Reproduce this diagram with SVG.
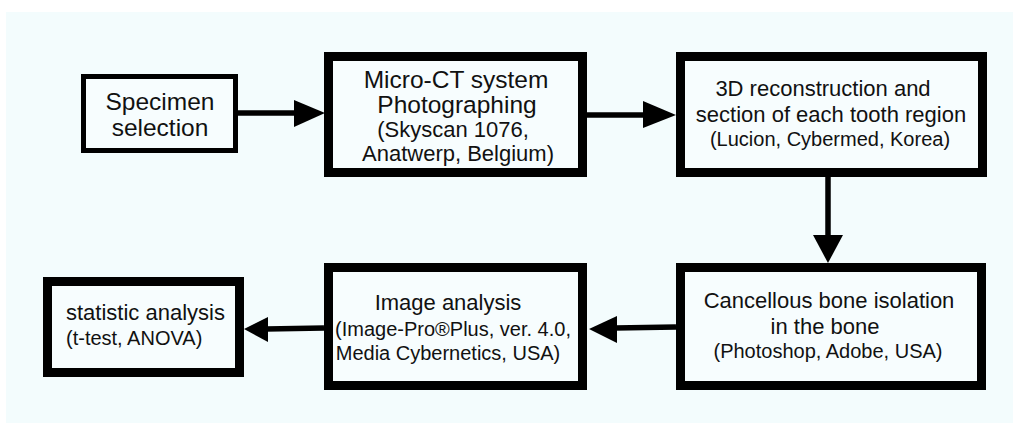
<svg xmlns="http://www.w3.org/2000/svg" width="1013" height="423" viewBox="0 0 1013 423">
<style>
.box{fill:#F7FDFE;stroke:#000;stroke-width:9}
.t{font-family:"Liberation Sans",Arial,sans-serif;fill:#111;text-anchor:middle}
.big{font-size:24.5px}
.mid{font-size:22px}
.sm{font-size:20px}
.ln{stroke:#000;stroke-width:5.5;fill:none}
.hd{fill:#000}
</style>
<rect x="0" y="0" width="1013" height="423" fill="#FFFFFF"/>
<rect x="6" y="12" width="1007" height="411" fill="#F3FCFD"/>
<g id="connectors">
<line class="ln" x1="238" y1="113" x2="296" y2="113"/>
<polygon class="hd" points="294,100 325,113 294,127"/>
<line class="ln" x1="587" y1="115" x2="645" y2="115"/>
<polygon class="hd" points="643,101 676,115 643,128"/>
<line class="ln" x1="828" y1="177" x2="828" y2="237"/>
<polygon class="hd" points="813,235 828,263 843,235"/>
<line class="ln" x1="676" y1="327" x2="615" y2="328"/>
<polygon class="hd" points="617,316 589,329 617,343"/>
<line class="ln" x1="324" y1="328" x2="266" y2="329"/>
<polygon class="hd" points="268,317 244,329 268,342"/>
</g>
<g id="n1">
<rect class="box" x="83.5" y="76.5" width="152" height="74" style="stroke-width:5"/>
<text class="t big" x="160" y="110">Specimen</text>
<text class="t big" x="160" y="136">selection</text>
</g>
<g id="n2">
<rect class="box" x="328.5" y="56.5" width="254" height="116"/>
<text class="t big" x="456" y="88">Micro-CT system</text>
<text class="t big" x="457" y="113">Photographing</text>
<text class="t mid" x="453" y="137">(Skyscan 1076,</text>
<text class="t mid" x="458" y="161">Anatwerp, Belgium)</text>
</g>
<g id="n3">
<rect class="box" x="680.5" y="56.5" width="302" height="116"/>
<text class="t mid" x="823" y="96">3D reconstruction and</text>
<text class="t mid" x="831" y="122">section of each tooth region</text>
<text class="t sm" x="830" y="146">(Lucion, Cybermed, Korea)</text>
</g>
<g id="n4">
<rect class="box" x="680.5" y="267.5" width="301" height="118"/>
<text class="t mid" x="829" y="308">Cancellous bone isolation</text>
<text class="t mid" x="825" y="334">in the bone</text>
<text class="t sm" x="828" y="358">(Photoshop, Adobe, USA)</text>
</g>
<g id="n5">
<rect class="box" x="328.5" y="267.5" width="254" height="118"/>
<text class="t mid" x="448" y="310">Image analysis</text>
<text class="t sm" x="453" y="336">(Image-Pro®Plus, ver. 4.0,</text>
<text class="t sm" x="448" y="360">Media Cybernetics, USA)</text>
</g>
<g id="n6">
<rect class="box" x="47.5" y="281.5" width="192" height="91"/>
<text class="t mid" x="66" y="320" style="text-anchor:start">statistic analysis</text>
<text class="t sm" x="66" y="345" style="text-anchor:start">(t-test, ANOVA)</text>
</g>
</svg>
